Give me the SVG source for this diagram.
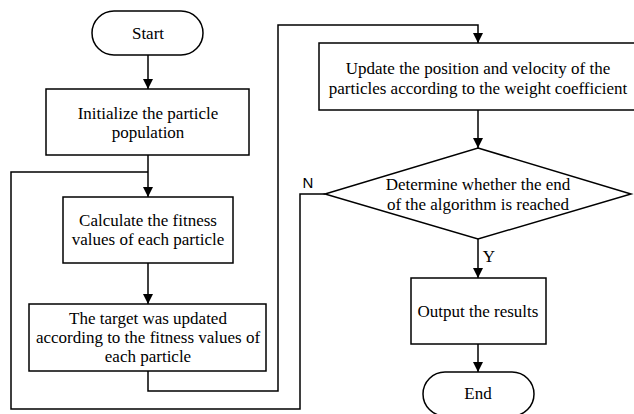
<svg xmlns="http://www.w3.org/2000/svg" width="634" height="414" viewBox="0 0 634 414">
<style>
.box{fill:#fff;stroke:#000;stroke-width:1.5}
.t{font-family:"Liberation Serif","Times New Roman",serif;font-size:17px;fill:#000;text-anchor:middle}
.s{font-family:"Liberation Sans",Arial,sans-serif;font-size:15px;fill:#000;text-anchor:middle}
.c{fill:none;stroke:#000;stroke-width:1.5}
</style>
<defs>
<marker id="ah" markerWidth="10" markerHeight="10" refX="10" refY="5" orient="auto" markerUnits="userSpaceOnUse">
<path d="M0,0 L10,5 L0,10 Z" fill="#000"/>
</marker>
</defs>
<rect width="634" height="414" fill="#fff"/>
<g id="connectors">
<path class="c" d="M148,55 V89" marker-end="url(#ah)"/>
<path class="c" d="M148,155 V197" marker-end="url(#ah)"/>
<path class="c" d="M148,263 V304" marker-end="url(#ah)"/>
<path class="c" d="M148,371 V391 H278 V25 H478 V43" marker-end="url(#ah)"/>
<path class="c" d="M478,110 V148" marker-end="url(#ah)"/>
<path class="c" d="M325,194 H300 V409 H11 V172 H148"/>
<path class="c" d="M478,239 V278" marker-end="url(#ah)"/>
<path class="c" d="M478,344 V372" marker-end="url(#ah)"/>
</g>
<g id="start">
<rect class="box" x="92" y="11" width="111" height="44" rx="22"/>
<text class="t" x="148" y="39">Start</text>
</g>
<g id="init">
<rect class="box" x="46" y="89" width="203" height="66"/>
<text class="t" x="148" y="119">Initialize the particle</text>
<text class="t" x="148" y="138">population</text>
</g>
<g id="calc">
<rect class="box" x="63" y="197" width="170" height="66"/>
<text class="t" x="148" y="226">Calculate the fitness</text>
<text class="t" x="148" y="245">values of each particle</text>
</g>
<g id="target">
<rect class="box" x="29" y="304" width="237" height="67"/>
<text class="t" x="148" y="324">The target was updated</text>
<text class="t" x="148" y="343">according to the fitness values of</text>
<text class="t" x="148" y="362">each particle</text>
</g>
<g id="update">
<rect class="box" x="319" y="43" width="318" height="67"/>
<text class="t" x="478" y="74">Update the position and velocity of the</text>
<text class="t" x="478" y="94">particles according to the weight coefficient</text>
</g>
<g id="decision">
<polygon class="box" points="478,148 631,194 478,239 325,194"/>
<text class="t" x="478" y="190">Determine whether the end</text>
<text class="t" x="478" y="210">of the algorithm is reached</text>
<text class="s" x="308" y="188">N</text>
<text class="t" x="489" y="262">Y</text>
</g>
<g id="output">
<rect class="box" x="411" y="278" width="135" height="66"/>
<text class="t" x="478" y="317">Output the results</text>
</g>
<g id="end">
<rect class="box" x="423" y="372" width="111" height="44" rx="22"/>
<text class="t" x="478" y="399">End</text>
</g>
</svg>
